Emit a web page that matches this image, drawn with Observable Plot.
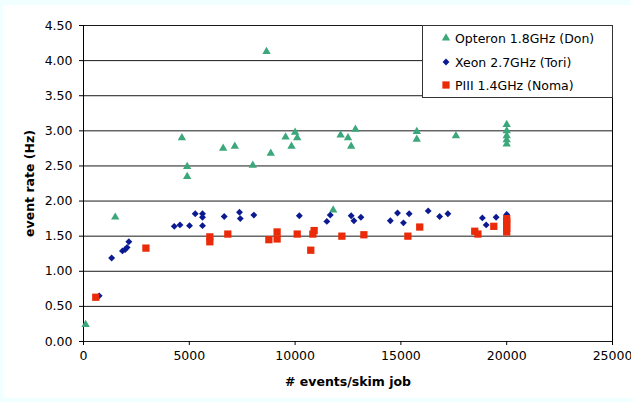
<!DOCTYPE html>
<html>
<head>
<meta charset="utf-8">
<script src="https://cdn.jsdelivr.net/npm/d3@7"></script>
<script src="https://cdn.jsdelivr.net/npm/@observablehq/plot@0.6"></script>
<style>
  html, body { margin: 0; padding: 0; background: #f0ffff; }
  #wrap { position: relative; width: 628px; height: 393px; padding: 5px 0 4px 3px; background: #f0ffff; }
  #wrap svg { display: block; }
  #wrap g[aria-label="x-axis label"] text, #wrap g[aria-label="y-axis label"] text { font-weight: bold; }
  #legend { position: absolute; left: 422px; top: 25px; width: 189px; height: 71px; border: 1px solid #333; background: #fff;
            font-family: "DejaVu Sans", Verdana, sans-serif; font-size: 12.5px; color: #000; }
  .row { position: absolute; left: 18px; height: 16px; display: flex; align-items: center; }
  .row svg { margin-right: 4px; }
</style>
</head>
<body>
<div id="wrap"><div id="legend"></div></div>
<script>
// ---- data ----
const seriesNames = ["Opteron 1.8GHz (Don)", "Xeon 2.7GHz (Tori)", "PIII 1.4GHz (Noma)"];

const opteronX = [100, 1500, 4650, 4900, 4900, 6600, 7150, 8000, 8650, 8850, 9550, 9830, 10000, 10100, 11800, 12150, 12500, 12650, 12850, 15750, 15750, 17600, 20000, 20000, 20000, 20000, 20000];
const opteronY = [0.24, 1.77, 2.90, 2.49, 2.35, 2.75, 2.78, 2.51, 4.13, 2.68, 2.91, 2.78, 2.98, 2.90, 1.87, 2.94, 2.90, 2.78, 3.02, 2.99, 2.88, 2.93, 3.09, 3.00, 2.93, 2.87, 2.81];

const xeonX = [740, 1330, 1840, 1970, 2060, 2143, 4290, 4560, 5010, 5280, 5624, 5624, 5624, 6650, 7372, 7410, 8050, 10200, 11500, 11660, 12650, 12780, 13110, 14500, 14840, 15120, 15390, 16290, 16830, 17220, 18850, 19030, 19500, 20000];
const xeonY = [0.65, 1.19, 1.29, 1.31, 1.34, 1.42, 1.64, 1.66, 1.65, 1.82, 1.82, 1.77, 1.65, 1.78, 1.84, 1.75, 1.80, 1.79, 1.71, 1.80, 1.79, 1.72, 1.77, 1.72, 1.83, 1.69, 1.82, 1.86, 1.78, 1.82, 1.76, 1.66, 1.77, 1.81];

const piiiX = [580, 2950, 5970, 5970, 6820, 8760, 9150, 9150, 10100, 10740, 10840, 10900, 12210, 13250, 15330, 15890, 18490, 18640, 19390, 20000, 20000, 20000, 20000, 20000];
const piiiY = [0.63, 1.33, 1.49, 1.42, 1.53, 1.45, 1.56, 1.46, 1.53, 1.30, 1.53, 1.58, 1.50, 1.52, 1.50, 1.63, 1.57, 1.53, 1.64, 1.56, 1.61, 1.66, 1.71, 1.75];

const xTicks = [0, 5000, 10000, 15000, 20000, 25000];
const yTicks = [0, 0.5, 1, 1.5, 2, 2.5, 3, 3.5, 4, 4.5];

// ---- styles (kept apart from data) ----
const symbols = ["triangle", "diamond2", "square"];
const d3symbols = [d3.symbolTriangle, d3.symbolDiamond2, d3.symbolSquare];
const colors = ["#3ba77b", "#0b1a90", "#ea2a08"];
const radii = [3.1, 3.1, 4.1];

const toRows = (xs, ys) => xs.map((x, i) => ({x, y: ys[i]}));
const data = [toRows(opteronX, opteronY), toRows(xeonX, xeonY), toRows(piiiX, piiiY)];

const chart = Plot.plot({
  width: 628,
  height: 393,
  marginLeft: 80,
  marginRight: 19,
  marginTop: 20,
  marginBottom: 57,
  style: {fontFamily: "DejaVu Sans, Verdana, sans-serif", fontSize: "12.5px", background: "#fff", color: "#000", overflow: "visible"},
  x: {domain: [0, 25000], ticks: xTicks, tickFormat: d => String(d), label: "# events/skim job",
      labelAnchor: "center", labelArrow: "none", labelOffset: 44, tickSize: 4, tickPadding: 6},
  y: {domain: [0, 4.5], ticks: yTicks, tickFormat: d3.format(".2f"), label: "event rate (Hz)",
      labelAnchor: "center", labelArrow: "none", labelOffset: 58, tickSize: 4, tickPadding: 7},
  marks: [
    Plot.gridY(yTicks, {stroke: "#000", strokeOpacity: 0.9}),
    Plot.ruleX([0], {stroke: "#000"}),
    Plot.ruleX([25000], {stroke: "#000"}),
    ...data.map((d, i) => Plot.dot(d, {x: "x", y: "y", symbol: () => symbols[i], fill: colors[i], stroke: "none", r: radii[i]}))
  ]
});
document.getElementById("wrap").prepend(chart);

// ---- legend ----
const legend = document.getElementById("legend");
const rowTops = [4, 28, 51];
seriesNames.forEach((name, i) => {
  const row = document.createElement("div");
  row.className = "row";
  row.style.top = rowTops[i] + "px";
  const size = radii[i] * radii[i] * Math.PI;
  const path = d3.symbol(d3symbols[i], size)();
  row.innerHTML = `<svg width="10" height="10" viewBox="-5 -5 10 10"><path d="${path}" fill="${colors[i]}"></path></svg><span>${name}</span>`;
  legend.appendChild(row);
});
</script>
</body>
</html>
